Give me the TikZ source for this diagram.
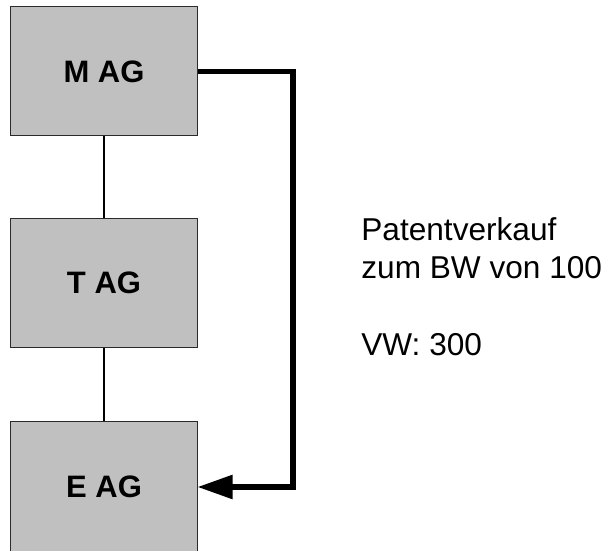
\documentclass[tikz,border=0pt]{standalone}
\usepackage{fontspec}
\setmainfont{Liberation Sans}
\usepackage{tikz}
\usetikzlibrary{arrows.meta}

\definecolor{boxGray}{HTML}{C0C0C0}
\definecolor{boxEdge}{HTML}{2A2A2A}

\tikzset{
  company/.style={draw=boxEdge, line width=0.5pt, fill=boxGray, minimum width=93pt,
    minimum height=64.5pt, inner sep=0pt, font=\fontsize{15.5}{18}\selectfont\bfseries},
  holding/.style={line width=0.7pt, black},
  sale/.style={line width=2.7pt, black, -{Triangle[length=17.5pt, width=11.5pt]}}
}

\begin{document}
\begin{tikzpicture}[x=0.5pt, y=-0.5pt, style={line cap = butt}]

  \useasboundingbox (0, 0) rectangle (607, 551);

  % the three companies
  \node[company] (mag) at (104, 71.5) {M AG};
  \node[company] (tag) at (104, 283) {T AG};
  \node[company, minimum height=65pt] (eag) at (104, 487) {E AG};

  % holding chain
  \draw[holding] (mag.south) -- (tag.north);
  \draw[holding] (tag.south) -- (eag.north);

  % patent sale from M AG to E AG
  \coordinate (bend) at (293, 71.5);
  \draw[sale] (mag.east) -- (bend) |- (eag.east);

  \node[anchor=north west, align=left, inner sep=0pt, font=\fontsize{15.8}{19.25}\selectfont]
    (note) at (361, 217) {Patentverkauf\\zum BW von 100\\[19.25pt]VW: 300};

\end{tikzpicture}
\end{document}
